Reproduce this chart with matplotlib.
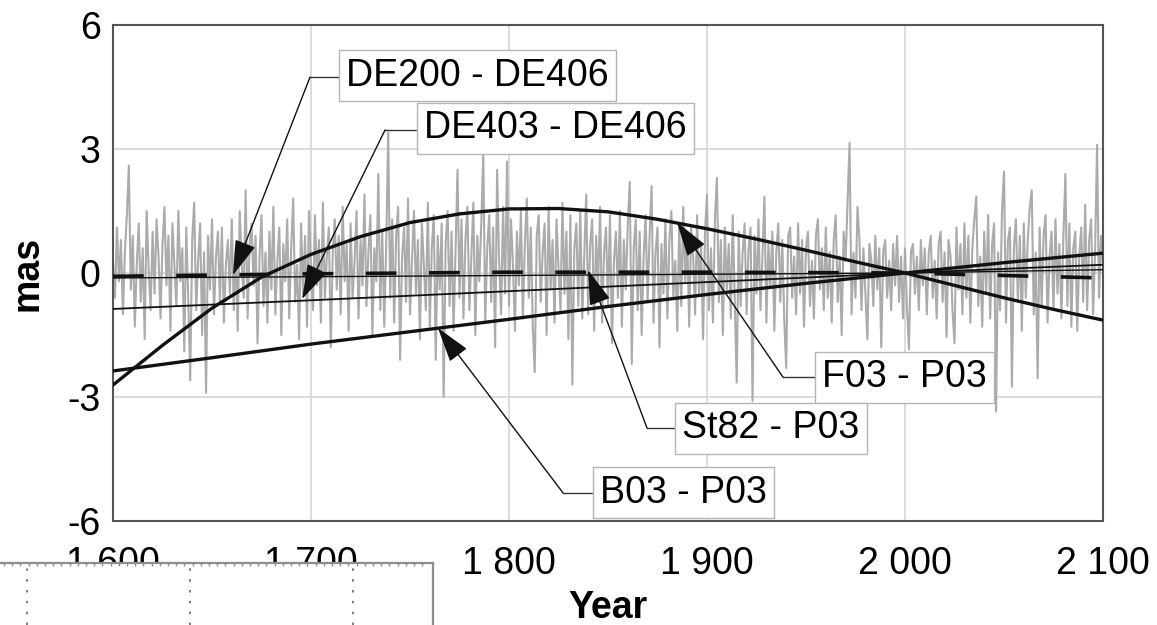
import matplotlib
matplotlib.use("Agg")
import matplotlib.pyplot as plt
from matplotlib.patches import FancyArrowPatch

plt.rcParams['font.family'] = ['Liberation Sans', 'DejaVu Sans']

# ---------------- data ----------------
noise_start = 1600
noise_values = [
    0.3, -0.6, 1.1, -0.2, 0.8, -1.0, 0.5, 1.4, 2.6, -0.4, 0.9, -1.3, 0.2, 1.2, -0.7, 0.6, -1.6, 1.5, 0.1, -0.9,
    1.0, -0.5, 1.3, 0.4, -1.1, 0.7, 1.6, -0.3, 0.9, -1.4, 1.2, 0.2, -0.8, 1.5, -0.2, 0.6, -1.9, 1.1, -0.6, -2.6,
    0.8, 1.7, -0.9, 0.3, 1.2, -1.5, 0.5, -2.9, 0.9, -0.4, 1.3, -1.0, 0.4, 1.0, -0.7, 1.1, -1.2, 0.2, 0.8, -0.5,
    1.3, -0.9, 0.6, -1.4, 1.5, 0.2, -0.6, 2.0, -1.1, 0.7, 1.2, -0.3, 0.9, -1.7, 0.4, 1.4, -0.8, 0.5, -1.2, 1.0,
    -0.4, 1.6, -1.0, 0.3, 1.1, -1.5, 0.7, -0.2, 1.3, -1.1, 0.6, 1.8, -0.7, 0.2, -1.6, 1.2, -0.5, 0.9, -1.3, 1.5,
    0.1, -0.9, 1.4, -0.3, 0.8, -1.2, 1.7, -0.6, 0.4, 1.1, -1.8, 0.5, 1.3, -0.4, 0.9, -1.0, 1.6, -0.2, 0.7, -1.4,
    1.2, -0.6, 0.3, 1.5, -1.1, 0.8, -0.3, 1.9, -0.8, 0.5, 1.4, -1.5, 0.6, -0.2, 2.4, -0.9, 1.0, -1.3, 0.7, 3.4,
    -0.6, 1.3, -1.2, 0.9, 1.6, -2.1, 0.4, 1.1, -0.7, 1.8, -1.0, 0.3, 1.5, -0.5, 0.8, -1.6, 1.2, 0.2, -0.9, 1.7,
    -1.3, 0.6, 1.4, -2.1, 0.9, -0.4, 1.2, -3.0, 0.7, 1.5, -0.8, 1.0, -1.4, 0.5, 2.5, -0.6, 1.3, -1.1, 0.8, 1.6,
    -0.9, 0.4, 1.7, -1.5, 0.9, -0.2, 1.2, 2.9, -1.2, 0.6, 1.4, -0.7, 1.1, -1.8, 2.5, 0.3, -1.0, 1.6, -0.5, 2.7,
    -0.8, 1.3, 0.2, -1.4, 1.0, -0.3, 1.5, -1.1, 0.7, 1.8, -0.6, 1.1, -1.3, -2.4, 0.9, 1.4, -0.7, 0.5, 1.2, -1.5,
    1.6, -0.4, 0.8, -1.2, 1.3, 0.1, -0.9, 1.7, -0.5, 1.0, -1.6, 1.4, -2.7, 0.6, 1.2, -0.8, 1.5, -1.1, 0.4, 1.9,
    -1.0, 0.7, 1.3, -1.4, 0.9, -0.3, 1.6, -1.2, 0.5, 1.1, -0.8, 1.4, -1.7, 0.3, 1.0, -0.6, 1.5, -1.3, 0.8, -0.4,
    1.2, 2.2, -2.2, 0.6, 1.3, -0.9, 1.0, -1.5, 0.4, 1.4, -0.7, 0.9, 2.1, -1.2, 0.5, 1.1, -1.8, 0.7, -0.5, 1.3,
    -1.1, 0.8, 1.5, -0.6, 0.3, -1.4, 1.2, -0.8, 1.6, -0.2, 0.9, -1.3, 1.1, 0.4, -1.0, 1.4, -0.5, 0.7, -1.6, 1.0,
    1.9, -0.9, 0.6, -1.2, 1.3, 2.3, -0.7, 0.8, -1.5, 1.1, -0.4, 0.7, -1.1, 1.4, -0.6, -2.65, 1.0, -0.8, 0.5, 1.2,
    -1.0, 0.6, 1.1, -3.1, 0.9, -0.5, 1.3, -0.9, 0.4, 1.85, -1.2, 0.7, -0.3, 1.0, -1.4, 0.5, 1.2, -0.7, 0.8, -1.1,
    -2.3, 0.9, 1.1, -0.6, 0.4, -1.0, 1.2, -0.5, 0.8, -1.3, 0.6, 1.0, -0.8, 0.3, -1.1, 0.9, 1.3, -0.4, 0.6, -0.9,
    1.1, -0.6, 0.5, -1.2, 0.8, 1.4, -0.7, 0.4, -1.5, 1.0, 0.3, 1.7, 3.15, -1.0, 0.5, -0.6, 1.6, 0.8, -0.9, 0.6,
    -0.5, -1.6, 0.7, 0.3, -0.8, 0.9, -0.4, 0.6, -1.8, 0.5, 0.8, -0.6, 0.3, -0.9, 0.7, -0.3, 0.9, -0.7, 0.4, -1.1,
    0.6, -0.8, -1.85, 0.5, 0.7, -0.5, 0.4, -0.9, 0.8, -0.3, 0.6, -1.0, 0.5, 0.9, -0.6, 0.3, -1.1, 0.7, 1.0, -0.7,
    0.5, -1.55, 0.8, 0.4, -0.9, -1.7, 1.1, -0.4, 0.7, -1.0, 1.2, -0.6, 0.9, -1.2, 0.6, 1.3, 1.85, -0.8, 0.4, -1.3,
    1.0, -0.5, 1.4, -1.1, 0.7, 1.2, -3.35, 0.5, -0.9, 1.5, 2.45, -1.2, 0.8, 1.1, -2.75, 0.6, 1.3, -0.7, 0.9, -1.4,
    1.2, -0.6, 0.8, 1.6, 2.0, -1.0, 0.5, -2.55, 1.1, -0.8, 0.9, 1.4, -1.2, 0.4, 1.0, -0.9, 1.3, -0.5, 0.7, -1.1,
    0.9, 2.4, -0.8, 1.2, -1.3, 0.6, 1.0, -1.4, 0.4, 1.1, -0.7, 1.65, -0.9, 0.8, 1.3, -1.0, 0.5, 3.1, -0.6, 0.9,
    0.2,
]
noise_years = [noise_start + i for i in range(len(noise_values))]

f03_years = [1600, 1625, 1650, 1675, 1700, 1725, 1750, 1775, 1800, 1825, 1850,
             1875, 1900, 1925, 1950, 1975, 2000, 2025, 2050, 2075, 2100]
f03_values = [-2.71, -1.75, -0.85, -0.10, 0.45, 0.88, 1.22, 1.43, 1.55, 1.56, 1.48,
              1.30, 1.07, 0.82, 0.55, 0.27, 0.0, -0.30, -0.60, -0.88, -1.14]

b03_years = [1600, 1650, 1700, 1750, 1800, 1850, 1900, 1950, 2000, 2050, 2100]
b03_values = [-2.37, -2.05, -1.72, -1.42, -1.12, -0.81, -0.52, -0.25, 0.0, 0.25, 0.48]

de403_years = [1600, 1700, 1800, 1900, 2000, 2100]
de403_values = [-0.87, -0.66, -0.44, -0.22, 0.0, 0.20]

de200_years = [1600, 1700, 1800, 1900, 2000, 2100]
de200_values = [-0.08, -0.02, 0.02, 0.02, 0.0, -0.12]

st82_years = [1600, 1700, 1800, 1900, 2000, 2100]
st82_values = [-0.12, -0.09, -0.06, -0.03, 0.0, 0.08]

x_ticks = [1600, 1700, 1800, 1900, 2000, 2100]
x_tick_labels = ["1 600", "1 700", "1 800", "1 900", "2 000", "2 100"]
y_ticks = [-6, -3, 0, 3, 6]
y_tick_labels = ["-6", "-3", "0", "3", "6"]

# callouts: label, text position, bend point, arrow tip (data coords)
callouts = [
    ("DE200 - DE406", (1717.7, 4.77), (1699.5, 4.74), (1660.6, -0.05)),
    ("DE403 - DE406", (1757.1, 3.50), (1737.4, 3.46), (1695.5, -0.63)),
    ("F03 - P03", (1958.1, -2.52), (1938.4, -2.52), (1884.8, 1.23)),
    ("St82 - P03", (1887.4, -3.76), (1869.7, -3.75), (1839.9, 0.07)),
    ("B03 - P03", (1846.0, -5.32), (1827.3, -5.32), (1764.1, -1.33)),
]

# ---------------- figure ----------------
W, H = 1157, 625
fig = plt.figure(figsize=(W / 100, H / 100), dpi=100)
ax = fig.add_axes([113 / W, 1 - 521 / H, 990 / W, 496 / H])

ax.set_xlim(1600, 2100)
ax.set_ylim(-6, 6)
ax.set_xticks(x_ticks)
ax.set_xticklabels(x_tick_labels)
ax.set_yticks(y_ticks)
ax.set_yticklabels(y_tick_labels)
ax.tick_params(axis='both', length=0, labelsize=27, colors='black')
ax.tick_params(axis='x', pad=18)
ax.tick_params(axis='y', pad=9)
ax.grid(True, color='#d6d6d6', lw=1.2, zorder=0)
ax.set_axisbelow(True)
for sp in ax.spines.values():
    sp.set_color('#555555')
    sp.set_linewidth(1.5)

ax.plot(noise_years, noise_values, color='#ababab', lw=1.5, zorder=1)

ax.plot(b03_years, b03_values, color='#111111', lw=2.4, zorder=3)
ax.plot(f03_years, f03_values, color='#111111', lw=2.4, zorder=3)
ax.plot(de403_years, de403_values, color='#111111', lw=1.3, zorder=3)
ax.plot(st82_years, st82_values, color='#111111', lw=1.0, zorder=3)
ax.plot(de200_years, de200_values, color='#111111', lw=2.6, zorder=3,
        dashes=(8.5, 9))

for label, tpos, bend, tip in callouts:
    ax.plot([bend[0], tpos[0]], [bend[1], bend[1]], color='#333333', lw=1.0, zorder=4)
    arr = FancyArrowPatch(bend, tip, arrowstyle='-|>,head_length=0.85,head_width=0.26',
                          mutation_scale=26, color='#111111', lw=1.0,
                          shrinkA=0, shrinkB=0, zorder=5)
    ax.add_patch(arr)
    ax.text(tpos[0], tpos[1], label, fontsize=27, ha='left', va='center', zorder=6,
            bbox=dict(boxstyle='square,pad=0.2', fc='white', ec='#b5b5b5', lw=1.0))

ax.set_ylabel('mas', fontsize=27, fontweight='bold')
ax.yaxis.set_label_coords(-0.086, 0.5)
ax.yaxis.label.set_va('center')
ax.set_xlabel('Year', fontsize=27, fontweight='bold')
ax.xaxis.set_label_coords(0.5, -0.175)
ax.xaxis.label.set_va('center')

# overlapping panel fragment at bottom left
ax2 = fig.add_axes([0, 0, 433 / W, 62 / H], zorder=10)
ax2.set_facecolor('white')
ax2.set_xlim(0, 433)
ax2.set_ylim(0, 62)
ax2.set_xticks([])
ax2.set_yticks([])
for side in ['left', 'bottom']:
    ax2.spines[side].set_visible(False)
for side in ['top', 'right']:
    ax2.spines[side].set_color('#8c8c8c')
    ax2.spines[side].set_linewidth(1.6)
for xv in [27, 190, 353]:
    ax2.plot([xv, xv], [0, 61], color='#666666', lw=1.2, linestyle=(0, (1.5, 5)))
tick_x = [4 + 8.2 * i for i in range(52)]
ax2.plot(tick_x, [61.5] * len(tick_x), linestyle='none', marker='|', ms=3,
         color='#8c8c8c', clip_on=False)

fig.savefig('out.png', dpi=100)
